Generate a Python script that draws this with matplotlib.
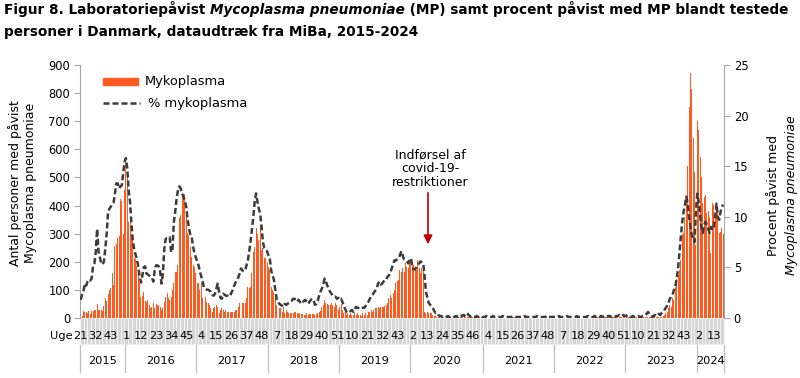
import numpy as np
import matplotlib
matplotlib.use("Agg")
import matplotlib.pyplot as plt
from matplotlib.patches import Rectangle
from matplotlib.lines import Line2D
import matplotlib.transforms as mtransforms

# weekly data
years = [2015, 2016, 2017, 2018, 2019, 2020, 2021, 2022, 2023, 2024]
first_week = [21, 1, 1, 1, 1, 1, 1, 1, 1, 1]

mp_2015 = [10, 8, 25, 20, 22, 18, 24, 16, 24, 26, 28, 30, 50, 28, 30, 30, 26, 42, 70, 62,
           85, 100, 105, 160, 117, 256, 265, 283, 290, 425, 416, 300, 455]
mp_2016 = [550, 505, 340, 345, 300, 277, 215, 210, 185, 160, 123, 76, 78, 94, 60, 58, 64, 46,
           34, 40, 52, 34, 50, 46, 45, 40, 28, 34, 58, 76, 88, 70, 64, 76, 100, 123, 165, 165,
           189, 355, 366, 443, 432, 440, 378, 301, 295, 254, 218, 189, 183, 159]
mp_2017 = [123, 123, 100, 123, 70, 82, 76, 58, 52, 46, 34, 22, 34, 40, 46, 40, 17, 28, 34, 28,
           22, 28, 22, 22, 22, 22, 22, 22, 28, 28, 40, 52, 40, 52, 55, 55, 70, 111, 105, 109,
           159, 236, 254, 319, 300, 277, 331, 242, 248, 212, 212, 200]
mp_2018 = [183, 171, 111, 100, 94, 70, 46, 40, 35, 34, 22, 40, 17, 28, 20, 17, 17, 17, 19, 22,
           20, 17, 14, 17, 13, 14, 12, 9, 17, 9, 14, 14, 14, 14, 12, 14, 18, 22, 26, 40, 46, 64,
           52, 50, 48, 46, 52, 45, 40, 55, 46, 28]
mp_2019 = [40, 50, 30, 17, 22, 11, 17, 11, 17, 11, 11, 17, 11, 17, 11, 11, 7, 17, 11, 17, 11,
           22, 22, 28, 22, 28, 34, 34, 40, 34, 40, 40, 40, 43, 46, 52, 70, 82, 70, 88, 100, 123,
           130, 135, 171, 165, 177, 165, 194, 183, 177, 200]
mp_2020 = [200, 194, 189, 171, 171, 206, 177, 159, 177, 170, 22, 17, 22, 17, 17, 17, 11, 7, 7,
           5, 3, 2, 2, 1, 1, 1, 2, 1, 1, 1, 1, 2, 1, 1, 2, 2, 3, 2, 3, 4, 3, 2, 3, 2, 1, 2, 1, 1,
           2, 1, 2, 1, 1]
mp_2021 = [1, 1, 2, 1, 1, 1, 1, 2, 1, 1, 1, 1, 1, 1, 2, 1, 1, 1, 1, 1, 1, 1, 2, 1, 1, 1, 1, 1,
           1, 1, 2, 1, 1, 1, 1, 1, 1, 1, 1, 2, 1, 1, 1, 1, 1, 1, 2, 1, 1, 1, 1, 1]
mp_2022 = [1, 1, 1, 2, 1, 1, 1, 1, 1, 2, 1, 1, 1, 1, 1, 1, 2, 1, 1, 1, 1, 1, 1, 1, 2, 1, 1, 1,
           1, 2, 1, 2, 2, 2, 3, 2, 2, 3, 2, 3, 3, 2, 3, 3, 2, 3, 3, 4, 3, 3, 4, 5]
mp_2023 = [3, 2, 2, 3, 2, 2, 2, 3, 2, 2, 3, 2, 2, 3, 3, 4, 3, 2, 3, 3, 4, 3, 3, 4, 4, 5,
           5, 8, 11, 17, 20, 34, 46, 40, 70, 64, 111, 138, 153, 171, 206, 299, 302, 360, 432,
           541, 752, 870, 813, 639, 520, 260]
mp_2024 = [700, 669, 574, 503, 408, 430, 437, 373, 380, 360, 231, 408, 402, 360, 408, 380,
           301, 307, 320, 300]

pct_2015 = [1.8, 2.3, 2.6, 3.4, 3.2, 3.6, 3.8, 3.7, 3.9, 5.1, 5.4, 6.5, 8.8, 6.6, 6.0, 5.4,
            5.3, 5.6, 6.9, 8.4, 10.5, 10.8, 11.0, 11.3, 11.4, 12.3, 13.3, 13.3, 12.8, 13.0,
            13.1, 14.3, 15.4]
pct_2016 = [15.8, 14.8, 12.6, 11.5, 9.4, 7.7, 6.8, 6.3, 5.8, 5.1, 4.1, 3.5, 4.2, 5.0, 5.1, 4.4,
            4.3, 4.2, 4.1, 4.0, 3.6, 4.7, 5.2, 5.2, 5.1, 4.6, 3.4, 4.4, 6.8, 7.8, 7.9, 7.9, 8.0,
            6.5, 6.8, 9.5, 10.5, 11.8, 12.6, 13.0, 12.8, 12.3, 12.0, 11.6, 11.0, 9.8, 8.9, 8.2,
            8.0, 7.1, 6.4, 6.0]
pct_2017 = [5.6, 5.2, 4.6, 4.1, 3.6, 3.0, 2.9, 2.8, 2.8, 2.7, 2.6, 2.3, 2.2, 2.4, 2.9, 3.4,
            2.6, 2.0, 1.9, 2.4, 2.3, 2.2, 2.2, 2.1, 2.2, 2.5, 2.8, 3.2, 3.5, 3.8, 4.0, 4.4, 4.9,
            4.7, 4.6, 4.7, 5.2, 5.7, 6.6, 7.6, 8.8, 10.0, 11.5, 12.3, 11.5, 10.8, 10.3, 9.0,
            7.5, 6.9, 6.7, 6.6]
pct_2018 = [6.2, 5.9, 4.7, 4.2, 3.8, 2.8, 1.9, 1.6, 1.4, 1.3, 1.2, 1.1, 1.4, 1.3, 1.4, 1.5,
            1.6, 1.7, 1.9, 1.9, 1.8, 1.6, 1.8, 1.6, 1.4, 1.5, 1.7, 1.8, 1.6, 1.4, 1.6, 1.8, 1.9,
            1.8, 1.3, 1.4, 1.7, 2.2, 2.6, 2.9, 3.3, 3.9, 3.6, 3.2, 2.9, 2.6, 2.4, 2.2, 2.1, 2.1,
            1.9, 2.0]
pct_2019 = [1.8, 1.9, 1.6, 1.2, 0.9, 0.6, 0.5, 0.6, 0.7, 0.8, 0.6, 0.9, 1.1, 1.0, 1.0, 1.0,
            1.1, 1.0, 1.0, 1.2, 1.4, 1.6, 1.9, 2.1, 2.3, 2.5, 2.7, 2.9, 3.4, 3.6, 3.3, 3.4, 3.6,
            3.8, 3.8, 4.1, 4.2, 4.5, 4.9, 5.3, 5.7, 5.7, 5.8, 5.9, 6.2, 6.6, 6.2, 5.8, 5.7, 5.6,
            5.4, 5.7]
pct_2020 = [5.9, 5.2, 4.8, 4.8, 5.0, 5.3, 5.4, 5.6, 5.5, 5.4, 4.1, 2.6, 2.0, 1.5, 1.3, 1.2,
            1.0, 0.7, 0.5, 0.5, 0.3, 0.2, 0.2, 0.1, 0.2, 0.1, 0.1, 0.2, 0.1, 0.1, 0.2, 0.2, 0.1,
            0.2, 0.1, 0.2, 0.1, 0.2, 0.3, 0.2, 0.4, 0.5, 0.3, 0.2, 0.1, 0.2, 0.1, 0.1, 0.2, 0.1,
            0.1, 0.2, 0.1]
pct_2021 = [0.1, 0.1, 0.2, 0.1, 0.1, 0.1, 0.1, 0.2, 0.1, 0.1, 0.1, 0.1, 0.1, 0.1, 0.2, 0.1,
            0.1, 0.1, 0.1, 0.1, 0.1, 0.1, 0.2, 0.1, 0.1, 0.1, 0.1, 0.1, 0.1, 0.1, 0.2, 0.1, 0.1,
            0.1, 0.1, 0.1, 0.1, 0.1, 0.1, 0.2, 0.1, 0.1, 0.1, 0.1, 0.1, 0.1, 0.2, 0.1, 0.1, 0.1,
            0.1, 0.1]
pct_2022 = [0.1, 0.1, 0.1, 0.2, 0.1, 0.1, 0.1, 0.1, 0.1, 0.2, 0.1, 0.1, 0.1, 0.1, 0.1, 0.1,
            0.2, 0.1, 0.1, 0.1, 0.1, 0.1, 0.1, 0.1, 0.2, 0.1, 0.1, 0.1, 0.1, 0.2, 0.1, 0.2, 0.2,
            0.1, 0.2, 0.1, 0.2, 0.2, 0.1, 0.2, 0.2, 0.1, 0.2, 0.2, 0.1, 0.2, 0.2, 0.3, 0.2, 0.2,
            0.3, 0.2]
pct_2023 = [0.2, 0.3, 0.2, 0.1, 0.1, 0.2, 0.1, 0.1, 0.2, 0.2, 0.1, 0.1, 0.2, 0.2, 0.3, 0.4,
            0.6, 0.4, 0.2, 0.1, 0.2, 0.3, 0.2, 0.4, 0.4, 0.3, 0.5,
            0.6, 0.8, 1.0, 1.2, 1.5, 1.9, 2.1, 2.3, 2.8, 3.2, 3.9, 4.9, 6.5, 8.0, 9.5, 10.5,
            11.2, 12.0, 11.3, 10.0, 9.0, 8.2, 7.8, 7.5, 10.5]
pct_2024 = [12.3, 11.5, 10.2, 9.0, 8.4, 9.2, 9.5, 9.2, 8.8, 8.4, 9.0, 8.7, 9.0, 10.0, 11.3,
            10.0, 9.7, 10.5, 11.0, 11.2]

mp_years = [mp_2015, mp_2016, mp_2017, mp_2018, mp_2019, mp_2020, mp_2021, mp_2022, mp_2023, mp_2024]
pct_years = [pct_2015, pct_2016, pct_2017, pct_2018, pct_2019, pct_2020, pct_2021, pct_2022,
             pct_2023, pct_2024]

mp = sum(mp_years, [])
pct = sum(pct_years, [])
week = []
bounds = [-0.5]
for fw, vals in zip(first_week, mp_years):
    week += list(range(fw, fw + len(vals)))
    bounds.append(bounds[-1] + len(vals))
x = np.arange(len(mp))

W, H = 800, 378
fig = plt.figure(figsize=(W / 100, H / 100), dpi=100)
ax = fig.add_axes([80 / W, 1 - 318 / H, 644 / W, 253 / H])

ax.bar(x, mp, width=0.72, color='#FF5A1F', zorder=2)
ax.set_xlim(-0.5, len(mp) - 0.5)
ax.set_ylim(0, 900)
ax.set_yticks(range(0, 901, 100))

ax2 = ax.twinx()
ax2.plot(x, pct, color='#3c3c3c', lw=1.8, ls=(0, (2.4, 1.2)))
ax2.set_ylim(0, 25)
ax2.set_yticks(range(0, 26, 5))

grey = '#a6a6a6'
for s in ['top', 'bottom', 'right']:
    ax.spines[s].set_visible(False)
for s in ['top', 'bottom', 'left']:
    ax2.spines[s].set_visible(False)
ax.spines['left'].set_color(grey)
ax2.spines['right'].set_color(grey)
ax.tick_params(axis='y', length=4, color=grey, labelsize=8.3, pad=3)
ax2.tick_params(axis='y', length=4, color=grey, labelsize=8.3, pad=3)

# grey category strips under the axis
ax.set_xticks([])
ax.set_xticks(x, minor=True)
ax.tick_params(axis='x', which='minor', length=19, width=0.9, color='#d6d6d6', labelbottom=False)

trans = mtransforms.blended_transform_factory(ax.transData, ax.transAxes)
for i in range(0, len(mp), 11):
    ax.text(i, -0.072, str(week[i]), transform=trans, ha='center', va='center', fontsize=8.2)
fig.text(73 / W, 1 - 336 / H, 'Uge', ha='right', va='center', fontsize=8.2)

for b in bounds:
    ax.plot([b, b], [-0.107, -0.215], transform=trans, color='#bfbfbf', lw=0.9, clip_on=False)
for k, yr in enumerate(years):
    ax.text((bounds[k] + bounds[k + 1]) / 2, -0.17, str(yr), transform=trans,
            ha='center', va='center', fontsize=8.2)

# axis titles
fig.text(15 / W, 1 - 183 / H, 'Antal personer med påvist', rotation=90, ha='center', va='center', fontsize=9)
fig.text(31 / W, 1 - 183 / H, 'Mycoplasma pneumoniae', rotation=90, ha='center', va='center', fontsize=9)
fig.text(773 / W, 1 - 195 / H, 'Procent påvist med', rotation=90, ha='center', va='center', fontsize=9)
fig.text(791 / W, 1 - 195 / H, 'Mycoplasma pneumoniae', rotation=90, ha='center', va='center',
         fontsize=9, style='italic')

# legend
fig.add_artist(Rectangle((103 / W, 1 - 85 / H), 35 / W, 7 / H, transform=fig.transFigure,
                         color='#FF5A1F'))
fig.text(145 / W, 1 - 81 / H, 'Mykoplasma', va='center', fontsize=9.4)
fig.add_artist(Line2D([103 / W, 140 / W], [1 - 103 / H, 1 - 103 / H], transform=fig.transFigure,
                      color='#3c3c3c', lw=1.8, ls=(0, (2.4, 1.2))))
fig.text(148 / W, 1 - 104 / H, '% mykoplasma', va='center', fontsize=9.4)

# covid annotation
fig.text(430 / W, 1 - 169 / H, 'Indførsel af\ncovid-19-\nrestriktioner', ha='center', va='center',
         fontsize=9, linespacing=1.05)
ax.annotate('', xy=(428 / W, 1 - 247 / H), xytext=(428 / W, 1 - 190 / H),
            xycoords='figure fraction', textcoords='figure fraction',
            arrowprops=dict(arrowstyle='-|>', color='#C00000', lw=1.2, mutation_scale=13))

# title with italic species name
renderer = fig.canvas.get_renderer()
def rich_line(x0, ybase, parts, size):
    xx = x0
    for txt, st in parts:
        t = fig.text(xx / W, 1 - ybase / H, txt, fontsize=size, fontweight='bold', style=st,
                     va='baseline')
        xx = t.get_window_extent(renderer).x1

rich_line(4, 14, [('Figur 8. Laboratoriepåvist ', 'normal'), ('Mycoplasma pneumoniae', 'italic'),
                  (' (MP) samt procent påvist med MP blandt testede', 'normal')], 9.8)
rich_line(4, 36, [('personer i Danmark, dataudtræk fra MiBa, 2015-2024', 'normal')], 9.8)

fig.savefig('out.png', dpi=100)
